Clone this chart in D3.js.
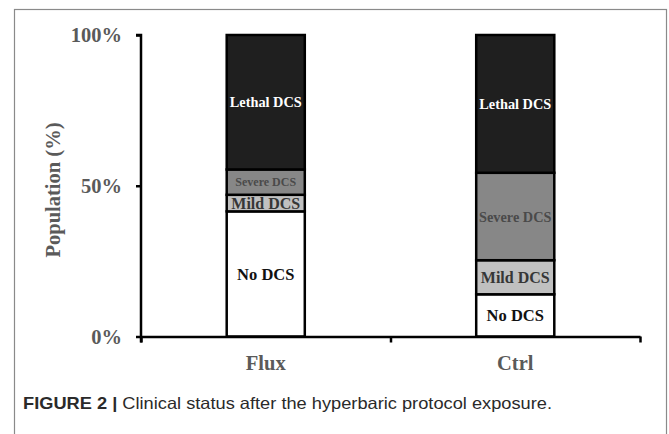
<!DOCTYPE html>
<html>
<head>
<meta charset="utf-8">
<script src="https://cdn.jsdelivr.net/npm/d3@7"></script>
<style>
  html, body { margin: 0; padding: 0; background: #fff; }
  svg { display: block; }
</style>
</head>
<body>
<svg id="chart" width="669" height="434"></svg>
<script>
// ---- data ----
const categories = ["Flux", "Ctrl"];
const statuses = ["No DCS", "Mild DCS", "Severe DCS", "Lethal DCS"];
const noDCS     = [41.5, 14.0];
const mildDCS   = [5.5, 11.3];
const severeDCS = [8.4, 29.0];
const lethalDCS = [44.6, 45.7];
const yTicks = [0, 50, 100];
const yTitle = "Population (%)";
const captionBold = "FIGURE 2 | ";
const captionText = "Clinical status after the hyperbaric protocol exposure.";

// ---- styles ----
const fills = {"No DCS": "#ffffff", "Mild DCS": "#c0c0c0", "Severe DCS": "#878787", "Lethal DCS": "#1f1f1f"};
const labelColor = {"No DCS": "#111", "Mild DCS": "#363636", "Severe DCS": "#4a4a4a", "Lethal DCS": "#ffffff"};
const labelSize = {
  "Flux": {"No DCS": 16.5, "Mild DCS": 16, "Severe DCS": 12, "Lethal DCS": 14.3},
  "Ctrl": {"No DCS": 16.5, "Mild DCS": 16, "Severe DCS": 14.3, "Lethal DCS": 14.3}
};

const table = categories.map((c, i) => ({
  cat: c, "No DCS": noDCS[i], "Mild DCS": mildDCS[i], "Severe DCS": severeDCS[i], "Lethal DCS": lethalDCS[i]
}));
const stacked = d3.stack().keys(statuses)(table);

const svg = d3.select("#chart");
const serif = "'Liberation Serif', 'Times New Roman', serif";

// frame
svg.append("rect")
  .attr("x", 14.5).attr("y", 9.5).attr("width", 652).attr("height", 440)
  .attr("fill", "none").attr("stroke", "#8a8a8a").attr("stroke-width", 1.2);

const x0 = 141, x1 = 640, yBottom = 336.5, yTop = 35;
const x = d3.scaleBand().domain(categories).range([x0, x1]).paddingInner(0.687).paddingOuter(0.3435);
const y = d3.scaleLinear().domain([0, 100]).range([yBottom, yTop]);

// bars
const layer = svg.append("g").selectAll("g").data(stacked).join("g")
  .attr("fill", d => fills[d.key]);
layer.selectAll("rect").data(d => d.map(v => ({key: d.key, v}))).join("rect")
  .attr("x", d => x(d.v.data.cat))
  .attr("width", x.bandwidth())
  .attr("y", d => y(d.v[1]))
  .attr("height", d => y(d.v[0]) - y(d.v[1]))
  .attr("stroke", "#000").attr("stroke-width", 2.5);

// bar labels
layer.selectAll("text").data(d => d.map(v => ({key: d.key, v}))).join("text")
  .attr("x", d => x(d.v.data.cat) + x.bandwidth() / 2)
  .attr("y", d => (y(d.v[0]) + y(d.v[1])) / 2)
  .attr("dy", "0.35em")
  .attr("text-anchor", "middle")
  .attr("font-family", serif).attr("font-weight", "bold")
  .attr("font-size", d => labelSize[d.v.data.cat][d.key])
  .attr("fill", d => labelColor[d.key])
  .text(d => d.key);

// y axis
const yAxis = svg.append("g").attr("transform", `translate(${x0},0)`)
  .call(d3.axisLeft(y).tickValues(yTicks).tickSize(5).tickPadding(14).tickFormat(d => d + "%"));
yAxis.select(".domain").attr("stroke", "#000").attr("stroke-width", 2.5)
  .attr("d", `M-5,${yTop}H0V${yBottom + 6}`);
yAxis.selectAll(".tick line").attr("stroke", "#000").attr("stroke-width", 2.5);
yAxis.selectAll(".tick text").attr("font-family", serif).attr("font-weight", "bold")
  .attr("font-size", 20.5).attr("fill", "#5a5a5a");

// x axis (category boundaries)
const xb = d3.scaleLinear().domain([0, categories.length]).range([x0, x1]);
const xAxis = svg.append("g").attr("transform", `translate(0,${yBottom})`)
  .call(d3.axisBottom(xb).tickValues(d3.range(categories.length + 1)).tickSize(6).tickSizeOuter(0).tickFormat(""));
xAxis.select(".domain").attr("stroke", "#000").attr("stroke-width", 2.5);
xAxis.selectAll(".tick line").attr("stroke", "#000").attr("stroke-width", 2.5);

// category labels
svg.append("g").selectAll("text").data(categories).join("text")
  .attr("x", d => x(d) + x.bandwidth() / 2)
  .attr("y", 370)
  .attr("text-anchor", "middle")
  .attr("font-family", serif).attr("font-weight", "bold")
  .attr("font-size", 20.5).attr("fill", "#5a5a5a")
  .text(d => d);

// y title
svg.append("text")
  .attr("transform", "translate(60,190) rotate(-90)")
  .attr("text-anchor", "middle")
  .attr("font-family", serif).attr("font-weight", "bold")
  .attr("font-size", 20.5).attr("fill", "#5a5a5a")
  .text(yTitle);

// caption
const cap = svg.append("text")
  .attr("x", 23).attr("y", 409)
  .attr("font-family", "'Liberation Sans Narrow', 'Liberation Sans', Arial, sans-serif")
  .attr("font-size", 16.5).attr("fill", "#2a2a2a")
  .attr("textLength", 529).attr("lengthAdjust", "spacingAndGlyphs");
cap.append("tspan").attr("font-weight", "bold").text(captionBold);
cap.append("tspan").text(captionText);
</script>
</body>
</html>
